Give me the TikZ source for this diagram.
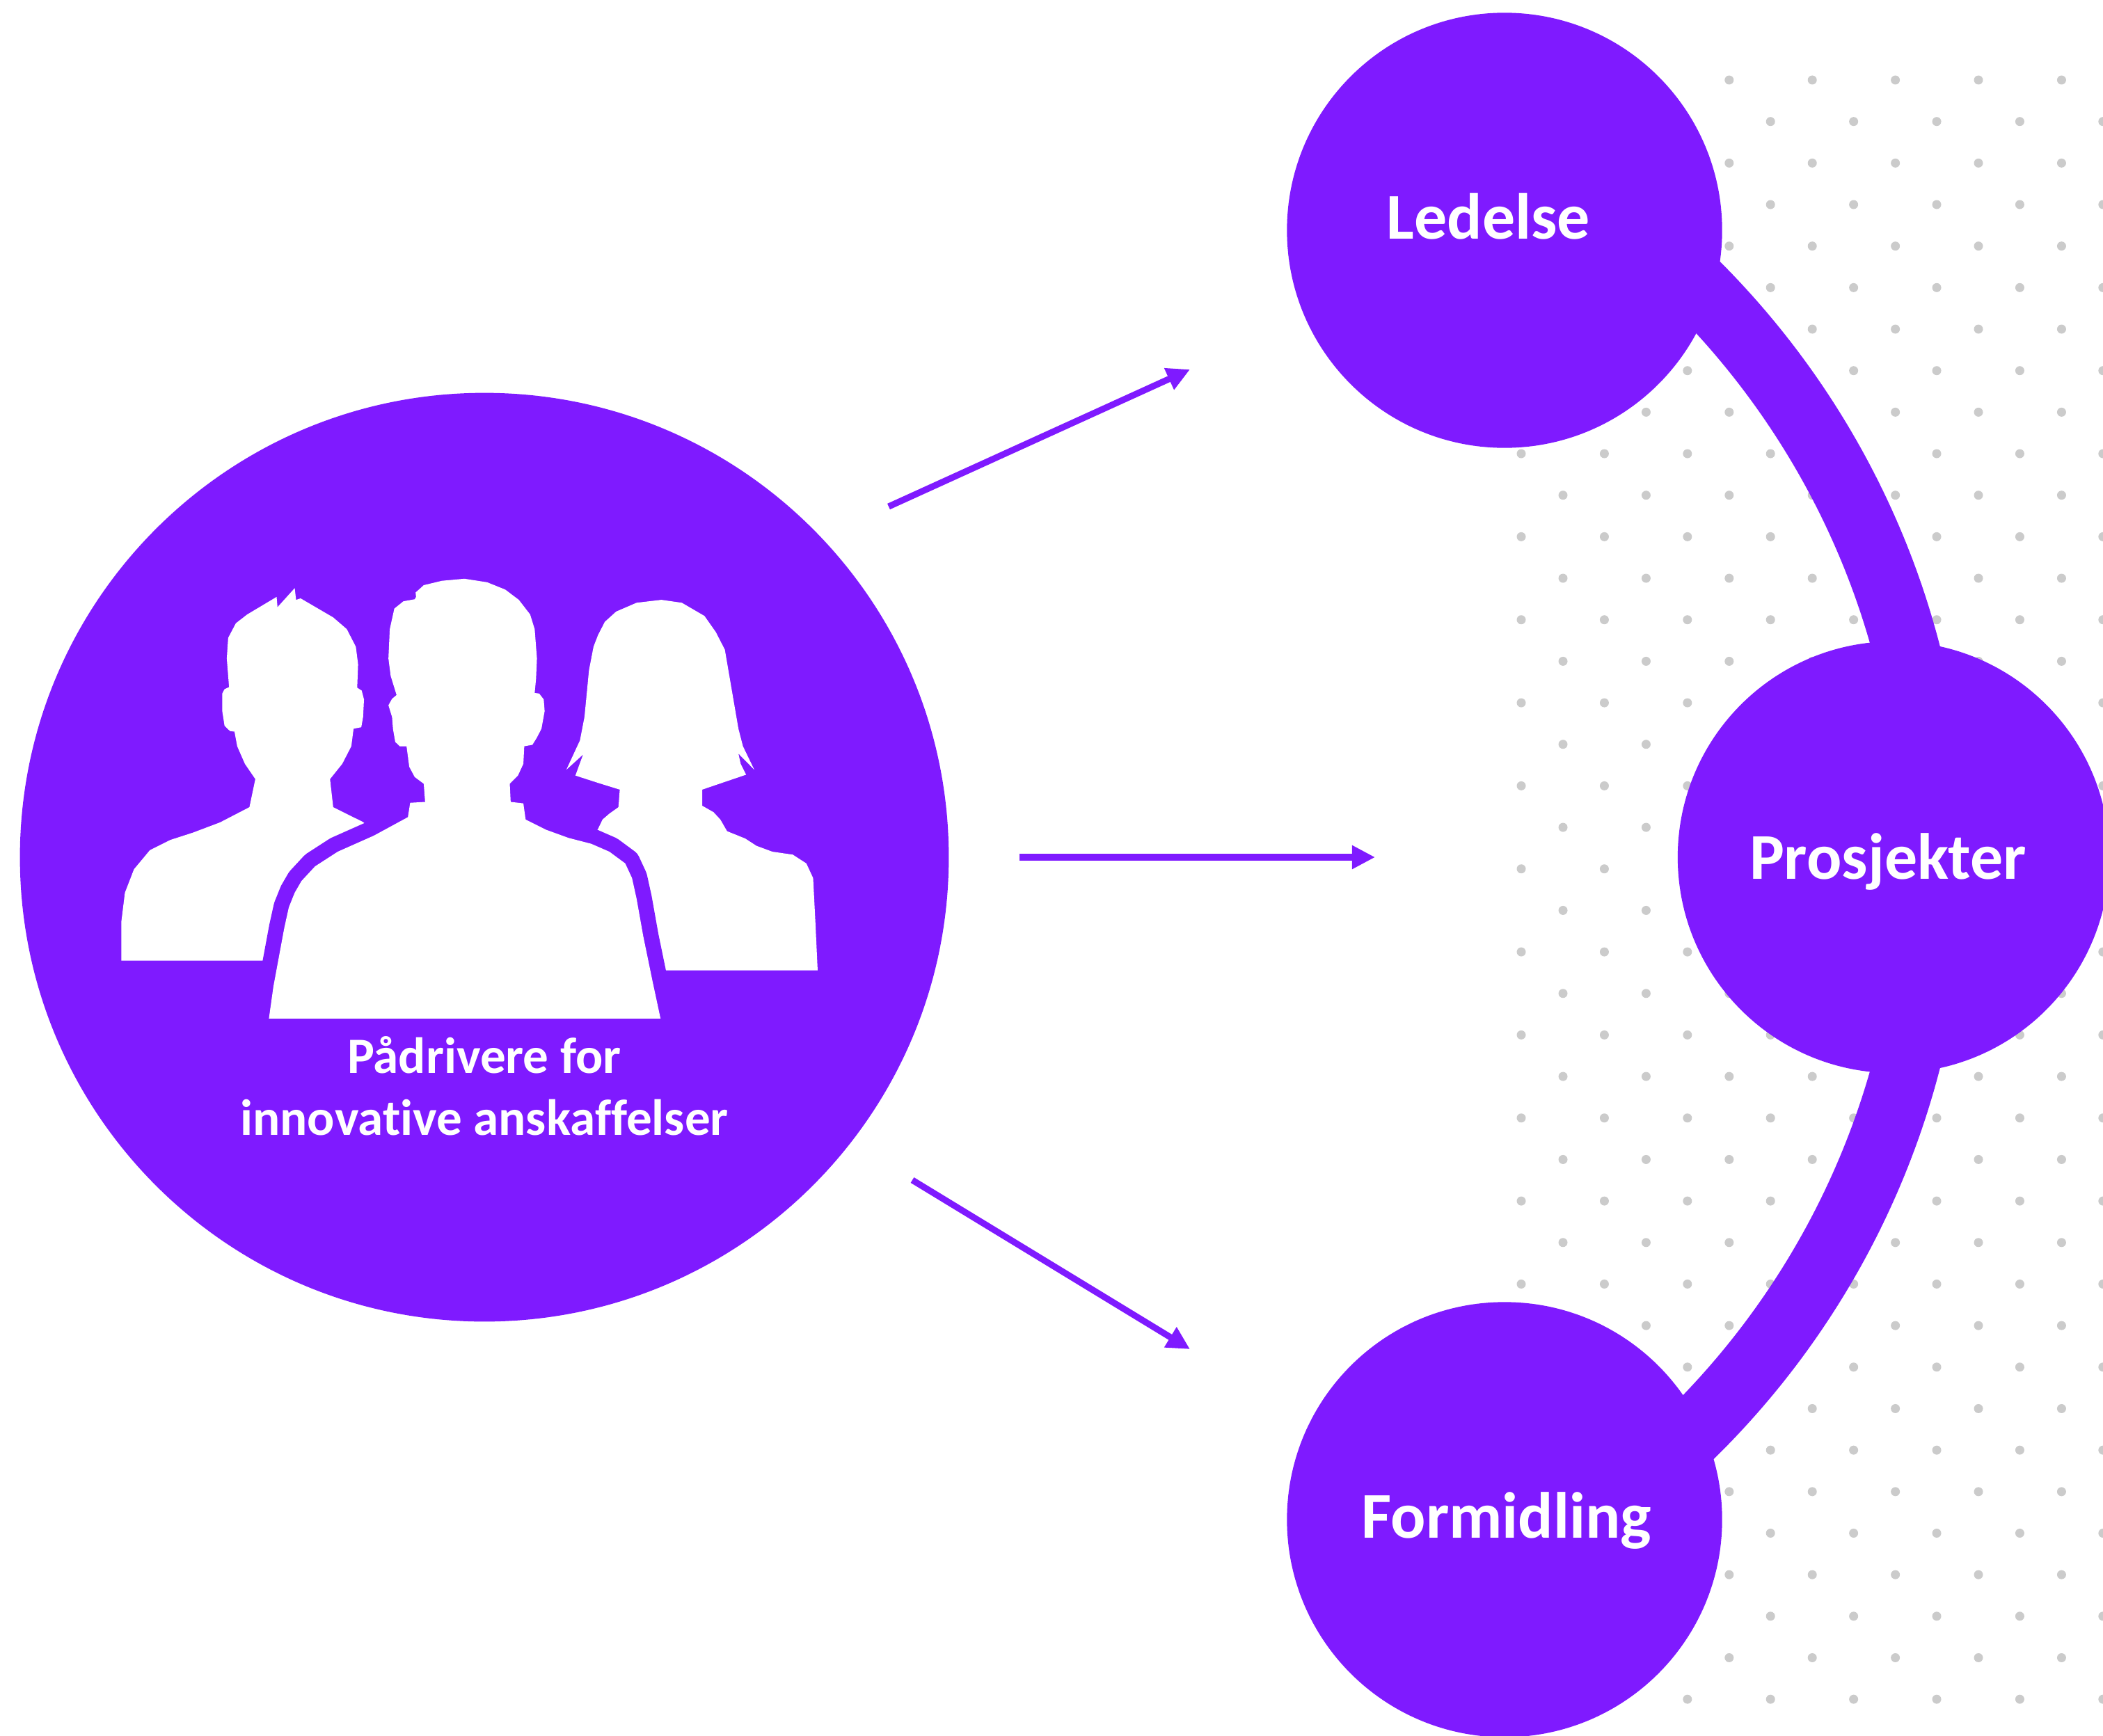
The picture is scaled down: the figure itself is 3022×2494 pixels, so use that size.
\documentclass[tikz,border=0pt]{standalone}
\usepackage{fontspec}
\setmainfont{Carlito}[Ligatures={NoCommon,NoRequired,NoContextual}]
\usetikzlibrary{arrows.meta}
\definecolor{vio}{HTML}{7F1AFF}
\definecolor{dotgray}{HTML}{CBCBCB}
\begin{document}
\begin{tikzpicture}[x=0.01cm,y=-0.01cm,
        bubble/.style={circle,fill=vio,inner sep=0pt},
        lbl/.style={text=white,font=\bfseries\fontsize{26.7}{32}\selectfont,anchor=base,inner sep=0pt},
        sublbl/.style={text=white,font=\bfseries\fontsize{20.8}{25}\selectfont,anchor=base,inner sep=0pt},
        arr/.style={draw=vio,line width=2.6pt,-{Triangle[length=9.4pt,width=9.1pt]}},
        band/.style={draw=vio,line width=27.3pt}]
    \useasboundingbox (0,0) rectangle (3022,2494);
    % dotted background
    \foreach \k in {0,...,39}{
        \pgfmathsetmacro{\yy}{115+59.67*\k}
        \pgfmathsetmacro{\xo}{isodd(\k) ? 2186 : 2246}
        \foreach \j in {0,...,7}
            \fill[dotgray] (\xo+119.4*\j,\yy) circle[radius=6.5];
    }
    % thick arc behind the three circles
    \coordinate (hub) at (1615,1232);
    \begin{scope}
        \clip (hub) -- ([shift={(-56:2000)}]hub) -- ([shift={(0:2000)}]hub) -- ([shift={(58:2000)}]hub) -- cycle;
        \draw[band] (hub) circle[radius=1163];
    \end{scope}
    \node[bubble,minimum size=13.34cm] (ppl) at (696,1232) {};
    \node[bubble,minimum size=6.25cm] (led) at (2162,331) {};
    \node[bubble,minimum size=6.2cm] (pro) at (2721,1232) {};
    \node[bubble,minimum size=6.25cm] (form) at (2162,2184) {};
    % people icon
    \begin{scope}[shift={(160,820)},xscale=0.6506,yscale=0.4209]
        \fill[white] (22,1332) -- (22,1200) -- (30,1100) -- (50,1020) -- (85,955) -- (130,920) -- (180,895) -- (240,860)
            -- (305,808) -- (318,712) -- (295,660) -- (278,600) -- (272,550) -- (262,548) -- (250,530) -- (245,480)
            -- (245,420) -- (250,405) -- (260,398) -- (255,300) -- (258,230) -- (275,180) -- (300,150) -- (365,90)
            -- (367,125) -- (405,60) -- (408,100) -- (418,95) -- (490,160) -- (520,200) -- (540,260) -- (545,320)
            -- (543,400) -- (553,410) -- (558,440) -- (556,500) -- (552,535) -- (535,540) -- (530,600) -- (510,660)
            -- (483,712) -- (490,808) -- (555,858) -- (575,880) -- (560,1000) -- (450,1332) -- cycle;
        \fill[white] (1120,1365) -- (1045,960) -- (1065,905) -- (1075,882) -- (1085,850) -- (1100,830) -- (1120,808)
            -- (1123,748) -- (1075,725) -- (1025,700) -- (1032,670) -- (1042,628) -- (1005,680) -- (1020,630)
            -- (1035,580) -- (1045,500) -- (1050,420) -- (1055,340) -- (1065,260) -- (1075,220) -- (1090,175)
            -- (1115,140) -- (1160,110) -- (1215,100) -- (1260,110) -- (1310,155) -- (1335,210) -- (1355,270)
            -- (1365,360) -- (1375,450) -- (1385,540) -- (1395,600) -- (1420,680) -- (1385,625) -- (1390,660)
            -- (1402,697) -- (1305,748) -- (1305,803) -- (1330,825) -- (1345,850) -- (1360,890) -- (1400,915)
            -- (1425,940) -- (1460,960) -- (1505,970) -- (1535,1000) -- (1550,1050) -- (1555,1200) -- (1560,1365) -- cycle;
        \fill[white,preaction={draw=vio,line width=12.5pt,line join=round}] (348,1530) -- (358,1420) -- (370,1320)
            -- (382,1220) -- (392,1150) -- (405,1100) -- (420,1060) -- (450,1010) -- (500,960) -- (580,905) -- (655,842)
            -- (660,793) -- (693,790) -- (690,728) -- (670,705) -- (658,670) -- (652,600) -- (637,600) -- (627,585)
            -- (622,540) -- (620,500) -- (612,460) -- (620,438) -- (630,425) -- (617,360) -- (612,300) -- (615,200)
            -- (625,130) -- (645,105) -- (670,98) -- (673,90) -- (672,75) -- (690,50) -- (730,35) -- (780,28)
            -- (830,40) -- (870,65) -- (900,100) -- (925,150) -- (935,200) -- (940,300) -- (938,370) -- (935,418)
            -- (945,420) -- (955,440) -- (957,480) -- (950,540) -- (940,570) -- (930,595) -- (912,600) -- (910,660)
            -- (898,700) -- (880,728) -- (882,790) -- (910,795) -- (915,850) -- (960,885) -- (1010,913) -- (1060,933)
            -- (1100,960) -- (1135,1000) -- (1150,1050) -- (1160,1120) -- (1175,1250) -- (1195,1400) -- (1213,1530) -- cycle;
    \end{scope}
    \node[sublbl] (pad1) at (696,1542) {Pådrivere for};
    \node[sublbl] (pad2) at (696,1631) {innovative anskaffelser};
    \node[lbl] (ledtxt) at (2139,343) {Ledelse};
    \node[lbl] (protxt) at (2713,1263) {Prosjekter};
    \node[lbl] (formtxt) at (2165,2210) {Formidling};
    % arrows
    \coordinate (a1) at (1277,728);
    \coordinate (b1) at (1710,531);
    \coordinate (a2) at (1465,1232);
    \coordinate (b2) at (1976,1232);
    \coordinate (a3) at (1311,1696);
    \coordinate (b3) at (1710,1939);
    \draw[arr] (a1) -- (b1);
    \draw[arr] (a2) -- (b2);
    \draw[arr] (a3) -- (b3);
\end{tikzpicture}
\end{document}
